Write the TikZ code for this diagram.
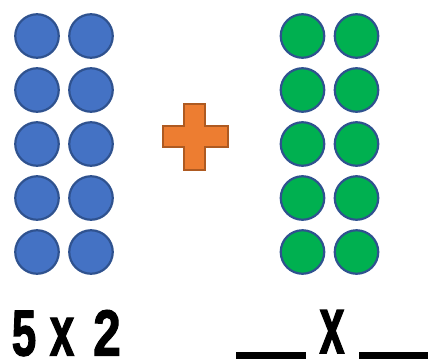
\documentclass[tikz,border=0pt]{standalone}
\usepackage{fontspec}
\setmainfont{Liberation Sans}
\newfontfamily\heavyfont[FakeBold=2]{Liberation Sans Bold}
\definecolor{dotblue}{HTML}{4472C4}
\definecolor{dotedge}{HTML}{2F528F}
\definecolor{dotgreen}{HTML}{00B050}
\definecolor{plusfill}{HTML}{ED7D31}
\definecolor{plusedge}{HTML}{AE5A21}
\begin{document}
\begin{tikzpicture}[x=1pt,y=-1pt,
  bluedot/.style={circle,draw=dotedge,fill=dotblue,line width=2.2pt,minimum size=43.5pt,inner sep=0pt},
  greendot/.style={circle,draw=dotedge,fill=dotgreen,line width=2.2pt,minimum size=43.5pt,inner sep=0pt},
  bigchar/.style={anchor=base,inner sep=0pt},
  blank/.style={fill=black}]
\useasboundingbox (0,0) rectangle (428,359);
\foreach \r in {0,...,4}{
  \node[bluedot] (b1\r) at (37,{36+54*\r}) {};
  \node[bluedot] (b2\r) at (91,{36+54*\r}) {};
  \node[greendot] (g1\r) at (302.5,{36+54*\r}) {};
  \node[greendot] (g2\r) at (356.5,{36+54*\r}) {};
}
\draw[plusedge,fill=plusfill,line width=2pt,line join=miter]
  (184,104) -- (205,104) -- (205,126) -- (228,126) -- (228,147) -- (205,147)
  -- (205,170) -- (184,170) -- (184,147) -- (163,147) -- (163,126) -- (184,126) -- cycle;
\node[bigchar,font=\heavyfont\fontsize{65}{65}\selectfont] (five) at (24,355.5) {\scalebox{0.68}[1]{5}};
\node[bigchar,font=\heavyfont\fontsize{71}{71}\selectfont] (x1) at (62,355.5) {\scalebox{0.62}[1]{x}};
\node[bigchar,font=\heavyfont\fontsize{65}{65}\selectfont] (two) at (107,355.5) {\scalebox{0.76}[1]{2}};
\node[bigchar,font=\heavyfont\fontsize{81}{81}\selectfont] (x2) at (332,353) {\scalebox{0.55}[1]{x}};
\fill[blank] (236,352) rectangle (306,359);
\fill[blank] (359,352) rectangle (428,359);
\end{tikzpicture}
\end{document}
